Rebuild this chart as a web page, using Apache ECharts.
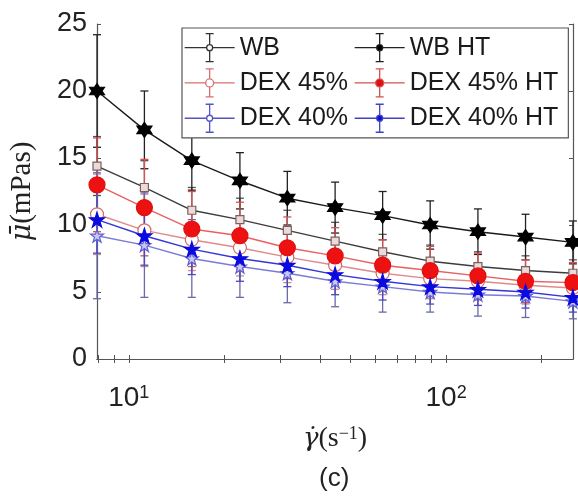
<!DOCTYPE html>
<html>
<head>
<meta charset="utf-8">
<script src="https://cdn.jsdelivr.net/npm/echarts@6/dist/echarts.min.js"></script>
<style>
  html, body { margin: 0; padding: 0; background: #fff; }
  #main { width: 578px; height: 498px; }
</style>
</head>
<body>
<div id="main"></div>
<script>
// shear rate (1/s) and mean viscosity (mPas) per sample
var shearRate = [7.94, 11.2, 15.8, 22.4, 31.6, 44.7, 63.1, 89.1, 126, 178, 251];
var wb        = [14.4, 12.8, 11.1, 10.4, 9.6, 8.8, 8.0, 7.3, 6.9, 6.6, 6.4];
var wbHT      = [20.0, 17.1, 14.8, 13.3, 12.0, 11.3, 10.7, 10.0, 9.5, 9.1, 8.7];
var dex45     = [10.8, 9.6, 8.9, 8.3, 7.6, 7.0, 6.4, 6.0, 5.8, 5.5, 5.3];
var dex45HT   = [13.0, 11.3, 9.7, 9.2, 8.3, 7.7, 7.0, 6.6, 6.2, 5.8, 5.7];
var dex40     = [9.2, 8.5, 7.5, 6.9, 6.4, 5.8, 5.4, 5.0, 4.8, 4.7, 4.3];
var dex40HT   = [10.4, 9.2, 8.2, 7.5, 7.0, 6.3, 5.8, 5.4, 5.2, 5.0, 4.6];

// error bar half widths
var wbErr      = [2.2, 2.0, 1.7, 1.6, 1.5, 1.4, 1.3, 1.2, 1.1, 1.1, 1.0];
var wbHTErr    = [4.2, 2.9, 2.2, 2.1, 2.0, 1.9, 1.8, 1.8, 1.7, 1.7, 1.6];
var dex45Err   = [3.0, 2.7, 2.3, 2.1, 1.9, 1.8, 1.6, 1.5, 1.4, 1.4, 1.3];
var dex45HTErr = [3.5, 3.6, 2.8, 2.5, 2.3, 2.1, 1.9, 1.8, 1.7, 1.6, 1.5];
var dex40Err   = [4.7, 3.9, 2.9, 2.3, 2.2, 1.9, 1.9, 1.5, 1.6, 1.6, 1.3];
var dex40HTErr = [2.5, 2.2, 1.9, 1.7, 1.6, 1.5, 1.4, 1.3, 1.2, 1.2, 1.1];

var xTicks = [8, 9, 10, 20, 30, 40, 50, 60, 70, 80, 90, 100, 200];
var xLabels = [10, 100];

var hexagram = 'path://M10 0L12.89 5L18.66 5L15.77 10L18.66 15L12.89 15L10 20L7.11 15L1.34 15L4.23 10L1.34 5L7.11 5Z';
var pentagram = 'path://M10 0L12.25 6.91L19.51 6.91L13.63 11.18L15.88 18.09L10 13.82L4.12 18.09L6.37 11.18L0.49 6.91L7.75 6.91Z';

function legendIcon(r) {
    var a = 25 - r, b = 25 + r, t = 14 - r, u = 14 + r;
    return 'path://M0 14L' + a + ' 14M' + b + ' 14L50 14' +
        'M25 0L25 ' + t + 'M25 ' + u + 'L25 28M21 0L29 0M21 28L29 28' +
        'M' + b + ' 14A' + r + ' ' + r + ' 0 1 1 ' + a + ' 14A' + r + ' ' + r + ' 0 1 1 ' + b + ' 14Z';
}

function errData(mean, err) {
    return shearRate.map(function (x, i) {
        return [x, mean[i] - err[i], mean[i] + err[i]];
    });
}

function errSeries(name, mean, err, color) {
    return {
        name: name,
        type: 'custom',
        silent: true,
        data: errData(mean, err),
        renderItem: function (params, api) {
            var hi = api.coord([api.value(0), api.value(2)]);
            var lo = api.coord([api.value(0), api.value(1)]);
            var w = 4;
            var st = { stroke: color, lineWidth: 1.3, fill: null };
            return {
                type: 'group',
                children: [
                    { type: 'line', shape: { x1: hi[0], y1: hi[1], x2: lo[0], y2: lo[1] }, style: st },
                    { type: 'line', shape: { x1: hi[0] - w, y1: hi[1], x2: hi[0] + w, y2: hi[1] }, style: st },
                    { type: 'line', shape: { x1: lo[0] - w, y1: lo[1], x2: lo[0] + w, y2: lo[1] }, style: st }
                ]
            };
        }
    };
}

function lineSeries(name, mean, lineColor, symbol, size, fill, border) {
    return {
        name: name,
        type: 'line',
        clip: false,
        data: shearRate.map(function (x, i) { return [x, mean[i]]; }),
        lineStyle: { color: lineColor, width: 1.4 },
        symbol: symbol,
        symbolSize: size,
        showAllSymbol: true,
        itemStyle: { color: fill, borderColor: border, borderWidth: 1.2 },
        emphasis: { disabled: true }
    };
}

var myChart = echarts.init(document.getElementById('main'));
myChart.setOption({
    animation: false,
    textStyle: { fontFamily: 'Liberation Sans' },
    grid: { left: 96, right: 5, top: 24, bottom: 139 },
    legend: {
        orient: 'vertical',
        left: 182,
        top: 28,
        height: 100,
        padding: [5, 10, 5, 2],
        itemWidth: 50,
        itemHeight: 28,
        itemGap: 6,
        borderColor: '#555',
        borderWidth: 1.2,
        backgroundColor: '#fff',
        selectedMode: false,
        textStyle: { fontSize: 25, color: '#1a1a1a', fontFamily: 'Liberation Sans' },
        data: [
            { name: 'WB', icon: legendIcon(3), itemStyle: { color: '#fff', borderColor: '#333', borderWidth: 1.3 } },
            { name: 'DEX 45%', icon: legendIcon(4), itemStyle: { color: '#fff', borderColor: '#d87070', borderWidth: 1.3 } },
            { name: 'DEX 40%', icon: legendIcon(3), itemStyle: { color: '#fff', borderColor: '#5555c0', borderWidth: 1.3 } },
            { name: 'WB HT', icon: legendIcon(3), itemStyle: { color: '#000', borderColor: '#222', borderWidth: 1.3 } },
            { name: 'DEX 45% HT', icon: legendIcon(4), itemStyle: { color: '#e01010', borderColor: '#d85050', borderWidth: 1.3 } },
            { name: 'DEX 40% HT', icon: legendIcon(3), itemStyle: { color: '#1010d0', borderColor: '#4040c8', borderWidth: 1.3 } }
        ]
    },
    xAxis: [{
        type: 'log',
        logBase: 10,
        min: 7.94,
        max: 251.2,
        name: '{i|γ̇}(s{sup|−1})',
        nameLocation: 'middle',
        nameGap: 66,
        nameTextStyle: {
            fontFamily: 'Liberation Serif', fontSize: 28, color: '#222',
            rich: {
                i: { fontFamily: 'DejaVu Serif', fontStyle: 'italic', fontSize: 26, color: '#222' },
                sup: { fontFamily: 'Liberation Serif', fontSize: 18, color: '#222', verticalAlign: 'top' }
            }
        },
        axisLine: { lineStyle: { color: '#555', width: 1.2 } },
        axisTick: { inside: true, length: 4, customValues: xTicks, lineStyle: { color: '#555' } },
        splitLine: { show: false },
        minorTick: { show: false },
        axisLabel: {
            customValues: xLabels,
            margin: 25,
            color: '#222',
            formatter: function (v) {
                return '{b|10}{s|' + Math.round(Math.log10(v)) + '}';
            },
            rich: {
                b: { fontSize: 28, color: '#222', fontFamily: 'Liberation Sans' },
                s: { fontSize: 18, color: '#222', fontFamily: 'Liberation Sans', verticalAlign: 'top' }
            }
        }
    }, {
        type: 'log',
        logBase: 10,
        position: 'top',
        min: 7.94,
        max: 251.2,
        axisLine: { lineStyle: { color: '#555', width: 1.2 } },
        axisTick: { inside: true, length: 4, customValues: xTicks, lineStyle: { color: '#555' } },
        axisLabel: { show: false },
        splitLine: { show: false }
    }],
    yAxis: [{
        type: 'value',
        min: 0,
        max: 25,
        interval: 5,
        name: '{i|μ̄}(mPas)',
        nameLocation: 'middle',
        nameRotate: 90,
        nameGap: 60,
        nameTextStyle: {
            fontFamily: 'Liberation Serif', fontSize: 29, color: '#222',
            rich: {
                i: { fontFamily: 'DejaVu Serif', fontStyle: 'italic', fontSize: 27, color: '#222' }
            }
        },
        axisLine: { show: true, lineStyle: { color: '#555', width: 1.2 } },
        axisTick: { show: true, inside: true, length: 4, lineStyle: { color: '#555' } },
        splitLine: { show: false },
        axisLabel: { fontSize: 27, color: '#222', margin: 10, fontFamily: 'Liberation Sans' }
    }, {
        type: 'value',
        position: 'right',
        min: 0,
        max: 25,
        interval: 5,
        axisLine: { show: true, lineStyle: { color: '#555', width: 1.2 } },
        axisTick: { show: true, inside: true, length: 4, lineStyle: { color: '#555' } },
        axisLabel: { show: false },
        splitLine: { show: false }
    }],
    series: [
        errSeries('WB err', wb, wbErr, '#555'),
        lineSeries('WB', wb, '#3c3c3c', 'rect', 8, '#ecdada', '#7a6060'),
        errSeries('WB HT err', wbHT, wbHTErr, '#222'),
        lineSeries('WB HT', wbHT, '#1a1a1a', hexagram, 15, '#000', '#000'),
        errSeries('DEX 45% err', dex45, dex45Err, '#d08a8a'),
        lineSeries('DEX 45%', dex45, '#e08a8a', 'circle', 13, '#fff', '#d06a6a'),
        errSeries('DEX 45% HT err', dex45HT, dex45HTErr, '#d85050'),
        lineSeries('DEX 45% HT', dex45HT, '#e86060', 'circle', 16, '#ee1111', '#e01010'),
        errSeries('DEX 40% err', dex40, dex40Err, '#6a6aa6'),
        lineSeries('DEX 40%', dex40, '#7b7bd8', pentagram, 13, '#c8c8f2', '#6060d0'),
        errSeries('DEX 40% HT err', dex40HT, dex40HTErr, '#4848c0'),
        lineSeries('DEX 40% HT', dex40HT, '#3535d8', pentagram, 15, '#0a0ae0', '#0a0ae0')
    ],
    graphic: [{
        type: 'text',
        left: 319,
        top: 466,
        style: { text: '(c)', fontSize: 26, fill: '#222', fontFamily: 'Liberation Sans' }
    }]
});
</script>
</body>
</html>
